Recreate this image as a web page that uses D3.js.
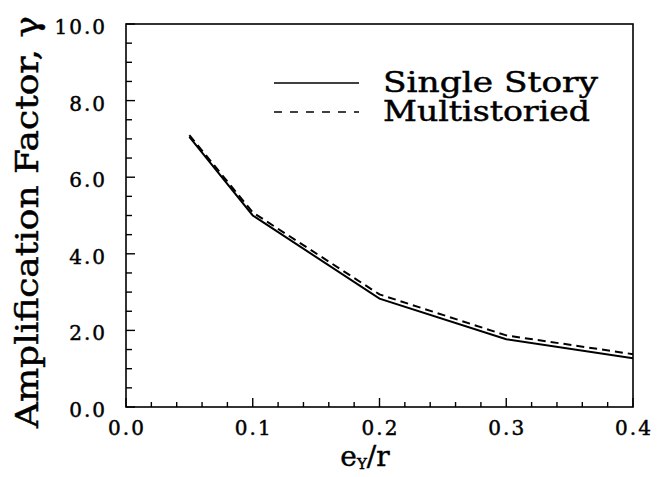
<!DOCTYPE html>
<html>
<head>
<meta charset="utf-8">
<script src="https://cdn.jsdelivr.net/npm/d3@7"></script>
<style>
  body { margin: 0; background: #fff; }
  text { font-family: "DejaVu Serif", serif; fill: #000; stroke: #000; stroke-width: 0.45; }
</style>
</head>
<body>
<script>
// values
var ratios = [0.05, 0.1, 0.2, 0.3, 0.4];
var singleStory = [7.05, 5.0, 2.83, 1.77, 1.27];
var multiStoried = [7.1, 5.08, 2.94, 1.87, 1.38];
var xTickLabels = ["0.0", "0.1", "0.2", "0.3", "0.4"];
var yTickLabels = ["0.0", "2.0", "4.0", "6.0", "8.0", "10.0"];

var width = 659, height = 477;
var plotLeft = 126, plotRight = 633, plotTop = 24, plotBottom = 407;

var svg = d3.select("body").append("svg")
    .attr("width", width)
    .attr("height", height);

var x = d3.scaleLinear().domain([0, 0.4]).range([plotLeft, plotRight]);
var y = d3.scaleLinear().domain([0, 10]).range([plotBottom, plotTop]);

// frame
svg.append("rect")
    .attr("x", plotLeft).attr("y", plotTop)
    .attr("width", plotRight - plotLeft).attr("height", plotBottom - plotTop)
    .attr("fill", "none").attr("stroke", "#000").attr("stroke-width", 1.6);

// x ticks, pointing inward
var xMinor = d3.range(0, 0.4001, 0.02);
svg.append("g").selectAll("line")
    .data(xMinor)
  .enter().append("line")
    .attr("x1", function(d) { return x(d); })
    .attr("x2", function(d) { return x(d); })
    .attr("y1", plotBottom)
    .attr("y2", function(d, i) { return plotBottom - (i % 5 == 0 ? 9 : 5); })
    .attr("stroke", "#000").attr("stroke-width", 1.4);

var yMinor = d3.range(0, 10.001, 0.5);
svg.append("g").selectAll("line")
    .data(yMinor)
  .enter().append("line")
    .attr("y1", function(d) { return y(d); })
    .attr("y2", function(d) { return y(d); })
    .attr("x1", plotLeft)
    .attr("x2", function(d, i) { return plotLeft + (i % 4 == 0 ? 9 : 6); })
    .attr("stroke", "#000").attr("stroke-width", 1.4);

// tick labels
svg.append("g").selectAll("text")
    .data(xTickLabels)
  .enter().append("text")
    .attr("x", function(d) { return x(+d) + 1; })
    .attr("y", 435)
    .attr("text-anchor", "middle")
    .attr("font-size", 20)
    .attr("letter-spacing", 2)
    .text(function(d) { return d; });

svg.append("g").selectAll("text")
    .data(yTickLabels)
  .enter().append("text")
    .attr("x", 107)
    .attr("y", function(d) { return y(+d) + 10; })
    .attr("text-anchor", "end")
    .attr("font-size", 20)
    .attr("letter-spacing", 2)
    .text(function(d) { return d; });

// axis titles
var xt = svg.append("text")
    .attr("x", 365).attr("y", 466)
    .attr("text-anchor", "middle")
    .attr("font-size", 28);
xt.append("tspan").text("e");
xt.append("tspan").attr("font-size", 15).attr("dy", 3).text("Y");
xt.append("tspan").attr("dy", -3).text("/r");

svg.append("text")
    .attr("transform", "translate(38,222) rotate(-90)")
    .attr("text-anchor", "middle")
    .attr("font-size", 31)
    .attr("textLength", 412)
    .attr("lengthAdjust", "spacingAndGlyphs")
    .text("Amplification Factor, \u03b3");

// curves
var line = d3.line()
    .x(function(d, i) { return x(ratios[i]); })
    .y(function(d) { return y(d); });

svg.append("path")
    .attr("d", line(singleStory))
    .attr("fill", "none").attr("stroke", "#000").attr("stroke-width", 2);

svg.append("path")
    .attr("d", line(multiStoried))
    .attr("fill", "none").attr("stroke", "#000").attr("stroke-width", 2)
    .attr("stroke-dasharray", "8,5");

// legend
var legend = [
  { name: "Single Story", dash: null, y: 83, len: 215 },
  { name: "Multistoried", dash: "8,8", y: 112, len: 207 }
];
var lg = svg.append("g").selectAll("g")
    .data(legend)
  .enter().append("g");
lg.append("line")
    .attr("x1", 274).attr("x2", 359)
    .attr("y1", function(d) { return d.y; })
    .attr("y2", function(d) { return d.y; })
    .attr("stroke", "#000").attr("stroke-width", 1.6)
    .attr("stroke-dasharray", function(d) { return d.dash; });
lg.append("text")
    .attr("x", 383)
    .attr("y", function(d) { return d.y + 9; })
    .attr("font-size", 27)
    .attr("textLength", function(d) { return d.len; })
    .attr("lengthAdjust", "spacingAndGlyphs")
    .text(function(d) { return d.name; });
</script>
</body>
</html>
